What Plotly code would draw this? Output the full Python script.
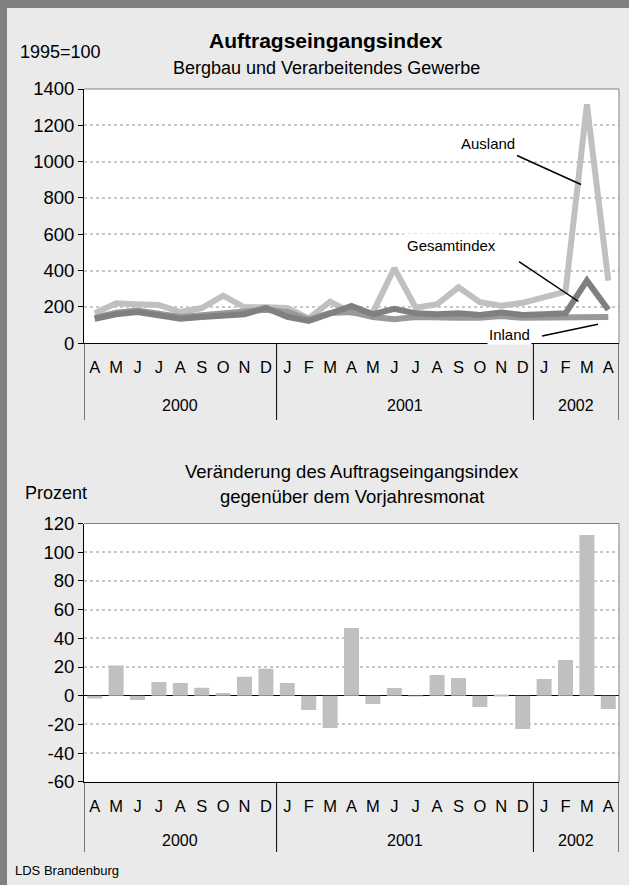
import plotly.graph_objects as go

# ---------------- data ----------------
months = ["A", "M", "J", "J", "A", "S", "O", "N", "D",
          "J", "F", "M", "A", "M", "J", "J", "A", "S", "O", "N", "D",
          "J", "F", "M", "A"]
month_names = ["Apr", "Mai", "Jun", "Jul", "Aug", "Sep", "Okt", "Nov", "Dez",
               "Jan", "Feb", "Mär", "Apr", "Mai", "Jun", "Jul", "Aug", "Sep", "Okt", "Nov", "Dez",
               "Jan", "Feb", "Mär", "Apr"]
years = [2000] * 9 + [2001] * 12 + [2002] * 4
categories = [f"{m} {y}" for m, y in zip(month_names, years)]

ausland = [165, 220, 215, 211, 172, 194, 262, 198, 198,
           194, 137, 229, 168, 170, 413, 196, 215, 308, 226, 207, 223,
           256, 284, 1315, 345]
gesamtindex = [135, 160, 172, 155, 135, 145, 150, 160, 195,
               146, 123, 160, 205, 160, 190, 165, 160, 165, 156, 170, 156,
               160, 165, 345, 185]
inland = [140, 168, 180, 163, 145, 155, 163, 172, 185,
          172, 130, 167, 172, 145, 133, 145, 140, 140, 140, 150, 140,
          140, 140, 145, 145]
veraenderung = [-2, 21, -3, 9.5, 8.8, 5.6, 1.9, 13.2, 18.8,
                8.8, -10, -22.5, 47.2, -5.8, 5.3, -0.5, 14.4, 12.3, -7.9, 0.8, -23.2,
                11.6, 24.9, 112, -9.3]
year_labels = ["2000", "2001", "2002"]
index_ticks = [0, 200, 400, 600, 800, 1000, 1200, 1400]
percent_ticks = [-60, -40, -20, 0, 20, 40, 60, 80, 100, 120]
percent_ticktext = ["-60", "-40", "-20", "0", "20", "40", "60", "80", "100", "120"]

# ---------------- geometry helpers (pixels -> paper) ----------------
W, H = 629, 885
def px(x):
    return x / W
def py(y):
    return 1 - y / H

FONT = "Liberation Sans, Arial, sans-serif"
x_left, x_right = 84, 619
top_plot = (89, 343.3)
bot_plot = (523.5, 781.8)

fig = go.Figure()

fig.add_trace(go.Scatter(x=categories, y=ausland, mode="lines", name="Ausland",
                         line=dict(color="#C0C0C0", width=6), xaxis="x", yaxis="y"))
fig.add_trace(go.Scatter(x=categories, y=inland, mode="lines", name="Inland",
                         line=dict(color="#999999", width=6), xaxis="x", yaxis="y"))
fig.add_trace(go.Scatter(x=categories, y=gesamtindex, mode="lines", name="Gesamtindex",
                         line=dict(color="#808080", width=6), xaxis="x", yaxis="y"))
fig.add_trace(go.Bar(x=categories, y=veraenderung, marker=dict(color="#C0C0C0", line=dict(width=0)),
                     name="Veränderung", xaxis="x2", yaxis="y2"))

common_x = dict(
    type="category", domain=[px(x_left), px(x_right)],
    tickmode="array", tickvals=categories, ticktext=months,
    ticks="outside", ticklen=9, tickcolor="rgba(0,0,0,0)",
    tickfont=dict(family=FONT, size=16.5, color="black"),
    showline=True, linecolor="black", linewidth=1,
    showgrid=False, zeroline=False, range=[-0.5, len(categories) - 0.5],
    tickangle=0, automargin=False,
)
common_y = dict(
    ticks="outside", ticklen=5, tickcolor="black",
    tickfont=dict(family=FONT, size=18.5, color="black"),
    showline=True, linecolor="black", linewidth=1,
    showgrid=True, gridcolor="#C8C8C8", griddash="dot", gridwidth=2,
    automargin=False,
)

fig.update_layout(
    width=W, height=H,
    margin=dict(l=0, r=0, t=0, b=0),
    paper_bgcolor="#EAEAEA", plot_bgcolor="white",
    showlegend=False, bargap=0.3,
    font=dict(family=FONT, color="black"),
    xaxis=dict(common_x, anchor="y"),
    yaxis=dict(common_y, domain=[py(top_plot[1]), py(top_plot[0])], range=[0, 1400],
               tickmode="array", tickvals=index_ticks, anchor="x", zeroline=False),
    xaxis2=dict(common_x, anchor="y2"),
    yaxis2=dict(common_y, domain=[py(bot_plot[1]), py(bot_plot[0])], range=[-60, 120],
                tickmode="array", tickvals=percent_ticks, ticktext=percent_ticktext,
                anchor="x2", zeroline=True, zerolinecolor="black", zerolinewidth=1),
)

shapes = []
# outer dark frame (left and top)
shapes += [
    dict(type="rect", xref="paper", yref="paper", x0=0, x1=px(7), y0=0, y1=1,
         fillcolor="#808080", line=dict(width=0), layer="below"),
    dict(type="rect", xref="paper", yref="paper", x0=0, x1=1, y0=py(8), y1=1,
         fillcolor="#808080", line=dict(width=0), layer="below"),
]
# plot border (top/right) in gray
for (yt, yb) in (top_plot, bot_plot):
    shapes.append(dict(type="line", xref="paper", yref="paper", x0=px(x_left), x1=px(x_right),
                       y0=py(yt), y1=py(yt), line=dict(color="#808080", width=1)))
    shapes.append(dict(type="line", xref="paper", yref="paper", x0=px(x_right), x1=px(x_right),
                       y0=py(yt), y1=py(yb), line=dict(color="#808080", width=1)))
# year dividers below the category axes
for xref, (yt, yb), ybottom in (("x", top_plot, 420), ("x2", bot_plot, 852)):
    for xv in (-0.5, 8.5, 20.5, 24.5):
        shapes.append(dict(type="line", xref=xref, yref="paper", x0=xv, x1=xv,
                           y0=py(yb), y1=py(ybottom), line=dict(color="black", width=1)))
# leader lines for series labels
shapes += [
    dict(type="line", xref="paper", yref="paper", x0=px(517), y0=py(155.5), x1=px(581), y1=py(184.5),
         line=dict(color="black", width=1.5)),
    dict(type="line", xref="paper", yref="paper", x0=px(519), y0=py(261.7), x1=px(578.5), y1=py(301.5),
         line=dict(color="black", width=1.5)),
    dict(type="line", xref="paper", yref="paper", x0=px(542), y0=py(336), x1=px(598), y1=py(324.3),
         line=dict(color="black", width=1.5)),
]
fig.update_layout(shapes=shapes)

ann = []
def text(x, y, s, size=15, bold=False, xanchor="center", bg=None, pad=1):
    d = dict(xref="paper", yref="paper", x=px(x), y=py(y), text=f"<b>{s}</b>" if bold else s,
             showarrow=False, xanchor=xanchor, yanchor="middle",
             font=dict(family=FONT, size=size, color="black"))
    if bg:
        d["bgcolor"] = bg
        d["borderpad"] = pad
    ann.append(d)

text(326, 40, "Auftragseingangsindex", size=21, bold=True)
text(326, 68, "Bergbau und Verarbeitendes Gewerbe", size=18)
text(18, 52, "1995=100", size=18, xanchor="left")
text(352, 471, "Veränderung des Auftragseingangsindex", size=18.5)
text(352, 496, "gegenüber dem Vorjahresmonat", size=18.5)
text(23, 493, "Prozent", size=18, xanchor="left")
text(13, 870, "LDS Brandenburg", size=13, xanchor="left")

text(488, 143, "Ausland", size=15, bg="white")
text(451, 245, "Gesamtindex", size=15, bg="white", pad=3)
text(509, 335, "Inland", size=15, bg="white")

# year labels centred under their month groups
groups = [(0, 8), (9, 20), (21, 24)]
for lab, (a, b) in zip(year_labels, groups):
    for xref, ylab in (("x", 406), ("x2", 840)):
        ann.append(dict(xref=xref, yref="paper", x=(a + b) / 2, y=py(ylab), text=lab,
                        showarrow=False, yanchor="middle",
                        font=dict(family=FONT, size=16, color="black")))
fig.update_layout(annotations=ann)

fig.write_html("out.html", config={"displayModeBar": False},
               post_script="document.body.style.margin='0';document.body.style.overflow='hidden';")
